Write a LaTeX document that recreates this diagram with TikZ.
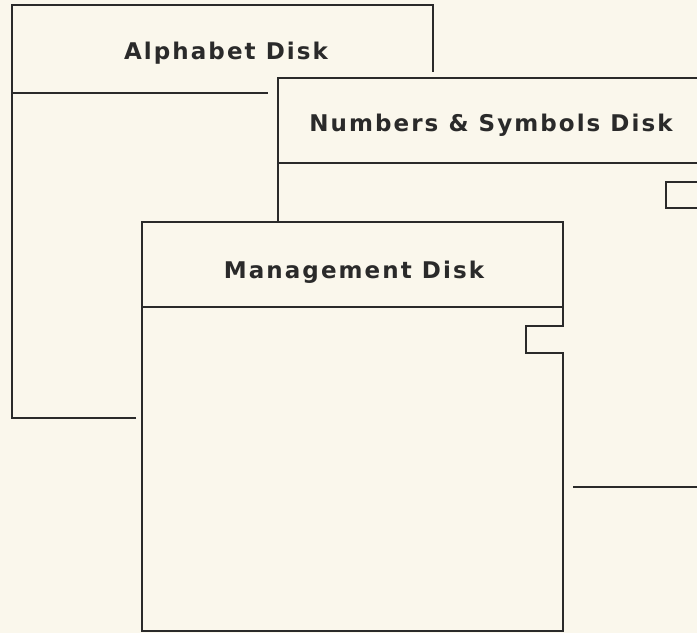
\documentclass[tikz,border=0pt]{standalone}
\usepackage{fontspec}
\setmainfont{DejaVu Sans}
\newfontfamily\labfont[LetterSpace=9]{DejaVu Sans}
\definecolor{paper}{HTML}{FAF7EC}
\definecolor{ink}{HTML}{2A2A2A}
\begin{document}
\begin{tikzpicture}[x=1pt,y=-1pt,
  edge/.style={draw=ink,line width=1.3pt,line join=miter},
  disklabel/.style={text=ink,inner sep=0pt,anchor=base,font=\labfont\bfseries\fontsize{23}{27}\selectfont}]
\fill[paper] (0,0) rectangle (697,633);
\useasboundingbox (0,0) rectangle (697,633);
% Alphabet disk
\draw[edge] (136,418) -- (12,418) -- (12,5) -- (433,5) -- (433,72);
\draw[edge] (12,93) -- (268,93);
\node[disklabel] (alpha) at (226,59) {Alphabet Disk};
% Numbers & Symbols disk
\draw[edge] (278,222) -- (278,78) -- (697,78);
\draw[edge] (278,163) -- (697,163);
\draw[edge] (697,182) -- (666,182) -- (666,208) -- (697,208);
\draw[edge] (573,487) -- (697,487);
\node[disklabel] (nums) at (491,131) {Numbers \& Symbols Disk};
% Management disk
\draw[edge] (563,326) -- (563,222) -- (142,222) -- (142,631) -- (563,631) -- (563,353) -- (526,353) -- (526,326) -- cycle;
\draw[edge] (142,307) -- (563,307);
\node[disklabel] (mgmt) at (354,278) {Management Disk};
\end{tikzpicture}
\end{document}
